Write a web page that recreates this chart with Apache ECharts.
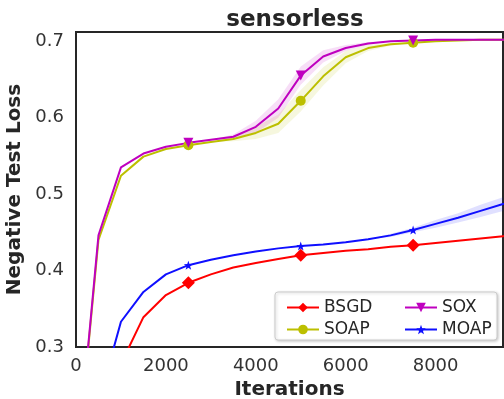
<!DOCTYPE html>
<html>
<head>
<meta charset="utf-8">
<script src="https://cdn.jsdelivr.net/npm/echarts@6/dist/echarts.min.js"></script>
<style>
  html, body { margin: 0; padding: 0; background: #fff; }
  #main { width: 504px; height: 399px; }
</style>
</head>
<body>
<div id="main"></div>
<script>
// iterations (every 500)
const iters = [0, 500, 1000, 1500, 2000, 2500, 3000, 3500, 4000, 4500, 5000,
               5500, 6000, 6500, 7000, 7500, 8000, 8500, 9000, 9500, 10000];

const bsgd = [0.10, 0.19, 0.278, 0.339, 0.368, 0.384, 0.395, 0.404, 0.410, 0.415, 0.420,
              0.423, 0.426, 0.428, 0.431, 0.433, 0.436, 0.439, 0.442, 0.445, 0.447];
const soap = [0.13, 0.44, 0.524, 0.549, 0.559, 0.564, 0.568, 0.572, 0.580, 0.592, 0.622,
              0.654, 0.679, 0.691, 0.696, 0.698, 0.700, 0.701, 0.702, 0.702, 0.702];
const sox  = [0.13, 0.446, 0.535, 0.553, 0.562, 0.567, 0.571, 0.575, 0.588, 0.612, 0.655,
              0.680, 0.691, 0.697, 0.700, 0.701, 0.702, 0.702, 0.702, 0.702, 0.702];
const moap = [0.10, 0.227, 0.333, 0.372, 0.395, 0.407, 0.414, 0.420, 0.425, 0.429, 0.432,
              0.434, 0.437, 0.441, 0.446, 0.453, 0.461, 0.469, 0.478, 0.487, 0.496];

// half widths of the shaded bands
const soapBand = [0, 0, 0, 0, 0, 0, 0, 0.003, 0.008, 0.012, 0.014,
                  0.012, 0.008, 0.004, 0.002, 0, 0, 0, 0, 0, 0];
const soxBand  = [0, 0, 0, 0, 0, 0, 0, 0.003, 0.008, 0.012, 0.012,
                  0.008, 0.004, 0.002, 0, 0, 0, 0, 0, 0, 0];
const moapBand = [0, 0, 0, 0, 0, 0, 0, 0, 0, 0, 0,
                  0, 0, 0, 0.002, 0.003, 0.005, 0.006, 0.008, 0.009, 0.010];

const markIdx = [5, 10, 15]; // markers at 2500, 5000, 7500

const starPath = 'path://M0,-10 L2.35,-3.24 L9.51,-3.09 L3.8,1.24 L5.88,8.09 L0,4 L-5.88,8.09 L-3.8,1.24 L-9.51,-3.09 L-2.35,-3.24 Z';

const chart = echarts.init(document.getElementById('main'));

function lineData(vals) {
    return vals.map(function (v, i) {
        const item = {value: [iters[i], v]};
        if (markIdx.indexOf(i) < 0) item.symbol = 'none';
        return item;
    });
}

function lineSeries(name, vals, color, symbol, size, rotate) {
    return {
        name: name,
        type: 'line',
        data: lineData(vals),
        symbol: symbol,
        symbolSize: size,
        symbolRotate: rotate || 0,
        showSymbol: true,
        itemStyle: {color: color},
        lineStyle: {color: color, width: 2},
        z: 5
    };
}

// shaded band drawn as a polygon through the axes' coord mapping
function bandSeries(vals, band, color) {
    const data = vals.map(function (v, i) { return [iters[i], v - band[i], v + band[i]]; });
    return {
        type: 'custom',
        silent: true,
        z: 1,
        clip: true,
        data: data,
        renderItem: function (params, api) {
            if (params.dataIndex !== 0) return;
            const upper = [], lower = [];
            for (let i = 0; i < data.length; i++) {
                upper.push(api.coord([data[i][0], data[i][2]]));
                lower.unshift(api.coord([data[i][0], data[i][1]]));
            }
            return {
                type: 'polygon',
                shape: {points: upper.concat(lower)},
                style: {fill: color, stroke: null}
            };
        }
    };
}

const red = '#ff0000';
const olive = '#bcbf00';
const magenta = '#bf00bf';
const blue = '#0f0fff';

const option = {
    animation: false,
    backgroundColor: '#ffffff',
    textStyle: {fontFamily: 'DejaVu Sans'},
    title: {
        text: 'sensorless',
        left: 290,
        textAlign: 'center',
        top: 4,
        textStyle: {fontSize: 23, fontWeight: 'bold', color: '#262626'}
    },
    grid: {
        left: 76, top: 32, right: 1, bottom: 52,
        outerBoundsMode: 'none',
        containLabel: false,
        show: true,
        borderColor: '#262626',
        borderWidth: 2
    },
    legend: [
        {
            orient: 'vertical', left: 281, top: 294, itemGap: 5,
            itemWidth: 32, itemHeight: 12, z: 20,
            textStyle: {fontSize: 17, color: '#262626'},
            data: ['BSGD', 'SOAP']
        },
        {
            orient: 'vertical', left: 399, top: 294, itemGap: 5,
            itemWidth: 32, itemHeight: 12, z: 20,
            textStyle: {fontSize: 17, color: '#262626'},
            data: ['SOX', 'MOAP']
        }
    ],
    graphic: [{
        type: 'rect',
        shape: {x: 275, y: 292, width: 222, height: 48, r: 3},
        style: {fill: '#ffffff', stroke: '#cccccc', lineWidth: 1, shadowBlur: 3, shadowColor: 'rgba(0,0,0,0.2)', shadowOffsetX: 1, shadowOffsetY: 1},
        z: 3
    }],
    xAxis: {
        type: 'value',
        min: 0, max: 9500, interval: 2000,
        name: 'Iterations',
        nameLocation: 'middle',
        nameGap: 31,
        nameTextStyle: {fontSize: 20, fontWeight: 'bold', color: '#262626'},
        axisLine: {show: false},
        axisTick: {show: false},
        splitLine: {show: false},
        axisLabel: {
            fontSize: 18, color: '#333333', margin: 10, showMaxLabel: false,
            formatter: function (v) { return String(v); }
        }
    },
    yAxis: {
        type: 'value',
        min: 0.3, max: 0.712, interval: 0.1,
        name: 'Negative Test Loss',
        nameLocation: 'middle',
        nameGap: 45,
        nameTextStyle: {fontSize: 20, fontWeight: 'bold', color: '#262626'},
        axisLine: {show: false},
        axisTick: {show: false},
        splitLine: {show: false},
        axisLabel: {
            fontSize: 18, color: '#333333', margin: 12, showMaxLabel: false,
            formatter: function (v) { return v.toFixed(1); }
        }
    },
    series: [
        bandSeries(soap, soapBand, 'rgba(188,191,0,0.13)'),
        bandSeries(sox, soxBand, 'rgba(191,0,191,0.13)'),
        bandSeries(moap, moapBand, 'rgba(15,15,255,0.13)'),
        lineSeries('BSGD', bsgd, red, 'diamond', 13),
        lineSeries('SOAP', soap, olive, 'circle', 10),
        lineSeries('SOX', sox, magenta, 'triangle', 10, 180),
        lineSeries('MOAP', moap, blue, starPath, 9)
    ]
};

chart.setOption(option);
</script>
</body>
</html>
